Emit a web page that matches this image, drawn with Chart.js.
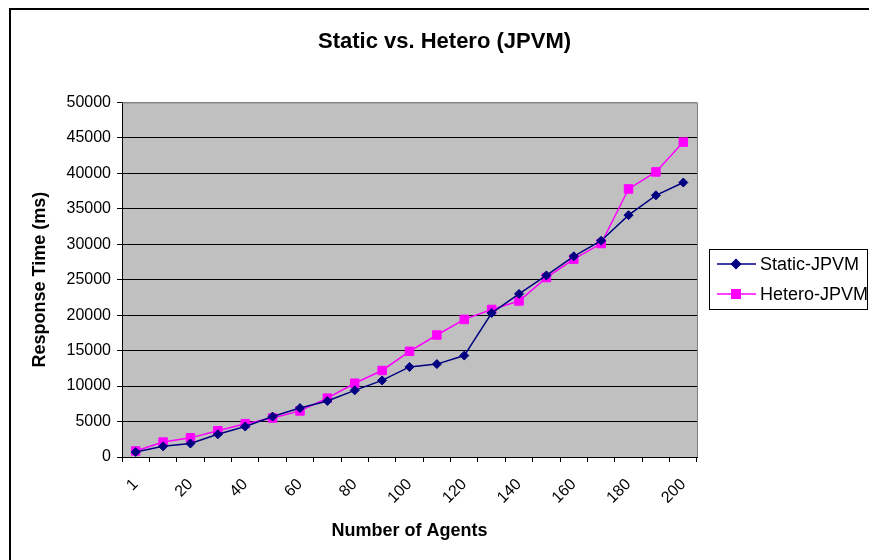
<!DOCTYPE html>
<html>
<head>
<meta charset="utf-8">
<script src="https://cdn.jsdelivr.net/npm/chart.js@4.4.1/dist/chart.umd.min.js"></script>
<style>
  html, body { margin: 0; padding: 0; background: #fff; }
  #wrap { width: 869px; height: 560px; }
</style>
</head>
<body>
<div id="wrap"><canvas id="myChart" width="869" height="560"></canvas></div>
<script>
// agents count (x categories)
const agents = ['1', '10', '20', '30', '40', '50', '60', '70', '80', '90', '100',
  '110', '120', '130', '140', '150', '160', '170', '180', '190', '200'];

// response time in ms
const staticJpvm = [700, 1500, 1900, 3200, 4300, 5700, 6900, 7900, 9400, 10800, 12700,
  13100, 14300, 20300, 23000, 25600, 28300, 30500, 34100, 36900, 38700];
const heteroJpvm = [850, 2100, 2700, 3700, 4700, 5500, 6500, 8300, 10400, 12200, 14900,
  17200, 19400, 20800, 22000, 25300, 27900, 30100, 37800, 40200, 44400];

const yTicks = [0, 5000, 10000, 15000, 20000, 25000, 30000, 35000, 40000, 45000, 50000];

const FONT = "'Liberation Sans', Arial, sans-serif";

// gray plot area + outer frame + excel-ish legend
const excelLook = {
  id: 'excelLook',
  beforeDraw(chart) {
    const { ctx, chartArea: a } = chart;
    ctx.save();
    ctx.fillStyle = '#c0c0c0';
    ctx.fillRect(a.left, a.top, a.right - a.left, a.bottom - a.top);
    ctx.restore();
  },
  afterDraw(chart) {
    const { ctx, chartArea: a } = chart;
    ctx.save();
    // plot border (right side gray)
    ctx.strokeStyle = '#808080';
    ctx.lineWidth = 1;
    ctx.beginPath();
    ctx.moveTo(a.left, a.top + 0.5);
    ctx.lineTo(a.right + 0.5, a.top + 0.5);
    ctx.lineTo(a.right + 0.5, a.bottom);
    ctx.stroke();

    // outer frame
    ctx.strokeStyle = '#000';
    ctx.lineWidth = 2;
    ctx.beginPath();
    ctx.moveTo(10, 600);
    ctx.lineTo(10, 9);
    ctx.lineTo(900, 9);
    ctx.stroke();

    // legend
    const lx = 709, ly = 249, lw = 158, lh = 60;
    ctx.fillStyle = '#fff';
    ctx.fillRect(lx, ly, lw, lh);
    ctx.strokeStyle = '#000';
    ctx.lineWidth = 1;
    ctx.strokeRect(lx + 0.5, ly + 0.5, lw, lh);
    chart.data.datasets.forEach((ds, i) => {
      const cy = ly + 15 + i * 30;
      ctx.strokeStyle = ds.borderColor;
      ctx.lineWidth = 1.5;
      ctx.beginPath();
      ctx.moveTo(717, cy);
      ctx.lineTo(756, cy);
      ctx.stroke();
      Chart.helpers.drawPoint(ctx, {
        pointStyle: ds.pointStyle,
        radius: ds.pointRadius,
        borderWidth: 1
      }, 736, cy);
      ctx.fillStyle = ds.borderColor;
      ctx.fill();
      ctx.fillStyle = '#000';
      ctx.font = '18px ' + FONT;
      ctx.textBaseline = 'middle';
      ctx.textAlign = 'left';
      ctx.fillText(ds.label, 760, cy + 1);
    });
    ctx.restore();
  }
};

const ctx = document.getElementById('myChart');
new Chart(ctx, {
  type: 'line',
  data: {
    labels: agents,
    datasets: [{
      label: 'Static-JPVM',
      data: staticJpvm,
      borderColor: '#000080',
      backgroundColor: '#000080',
      borderWidth: 1.5,
      pointStyle: 'rectRot',
      pointRadius: 4.5,
      pointBorderWidth: 1,
      tension: 0
    }, {
      label: 'Hetero-JPVM',
      data: heteroJpvm,
      borderColor: '#ff00ff',
      backgroundColor: '#ff00ff',
      borderWidth: 1.5,
      pointStyle: 'rect',
      pointRadius: 6,
      pointBorderWidth: 1,
      tension: 0
    }]
  },
  options: {
    responsive: false,
    animation: false,
    layout: { padding: { left: 20, top: 0, right: 0, bottom: 0 } },
    plugins: {
      legend: { display: false },
      tooltip: { enabled: false },
      title: {
        display: true,
        text: 'Static vs. Hetero (JPVM)',
        color: '#000',
        font: { family: FONT, size: 22, weight: 'bold' },
        padding: { top: 29, bottom: 47 }
      }
    },
    scales: {
      x: {
        type: 'category',
        offset: true,
        grid: { offset: true, drawOnChartArea: false, drawTicks: true, tickLength: 5, color: '#000' },
        border: { color: '#000', width: 1 },
        ticks: {
          color: '#000',
          font: { family: FONT, size: 16 },
          autoSkip: false,
          maxRotation: 45,
          minRotation: 45,
          padding: 13,
          callback: (v, i) => (i % 2 === 0 ? agents[i] : '')
        },
        title: {
          display: true,
          text: 'Number of Agents',
          color: '#000',
          font: { family: FONT, size: 18, weight: 'bold' },
          padding: { top: 0, bottom: 18 }
        },
        afterFit: s => { s.height = 103; }
      },
      y: {
        min: 0,
        max: 50000,
        afterBuildTicks: s => { s.ticks = yTicks.map(v => ({ value: v })); },
        grid: {
          color: c => (c.tick && c.tick.value === 50000 ? '#808080' : '#000'),
          tickColor: '#000',
          tickLength: 5
        },
        border: { color: '#000', width: 1 },
        ticks: {
          color: '#000',
          font: { family: FONT, size: 16 },
          padding: 6,
          callback: v => String(v)
        },
        title: {
          display: true,
          text: 'Response Time (ms)',
          color: '#000',
          font: { family: FONT, size: 18, weight: 'bold' },
          padding: { top: 9, bottom: 0 }
        },
        afterFit: s => { s.width = 102; }
      },
      // empty box on the right that leaves room for the legend
      gap: {
        type: 'linear',
        position: 'right',
        display: true,
        grid: { display: false },
        border: { display: false },
        ticks: { display: false },
        afterFit: s => { s.width = 172; }
      }
    }
  },
  plugins: [excelLook]
});
</script>
</body>
</html>
